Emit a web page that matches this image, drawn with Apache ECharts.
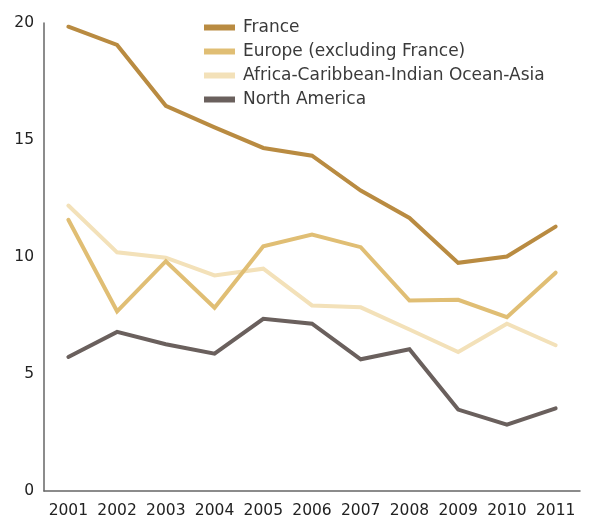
<!DOCTYPE html>
<html>
<head>
<meta charset="utf-8">
<script src="https://cdn.jsdelivr.net/npm/echarts@6/dist/echarts.min.js"></script>
<style>html,body{margin:0;padding:0;background:#fff}#c{width:590px;height:516px}</style>
</head>
<body>
<div id="c"></div>
<script>
var years = ['2001','2002','2003','2004','2005','2006','2007','2008','2009','2010','2011'];
var france = [19.84, 19.06, 16.46, 15.54, 14.66, 14.33, 12.84, 11.67, 9.75, 10.02, 11.3];
var europe = [11.59, 7.68, 9.82, 7.83, 10.46, 10.96, 10.42, 8.14, 8.17, 7.43, 9.33];
var africa = [12.2, 10.2, 9.97, 9.21, 9.5, 7.93, 7.85, 6.9, 5.94, 7.15, 6.23];
var northAmerica = [5.73, 6.8, 6.27, 5.87, 7.36, 7.15, 5.63, 6.06, 3.48, 2.84, 3.53];
var yTicks = [0, 5, 10, 15, 20];

var names = ['France', 'Europe (excluding France)', 'Africa-Caribbean-Indian Ocean-Asia', 'North America'];
var colors = ['#B98B41', '#E0BE74', '#F3E1B9', '#6A605D'];
var datas = [france, europe, africa, northAmerica];
var font = '"DejaVu Sans", sans-serif';

var chart = echarts.init(document.getElementById('c'));
chart.setOption({
  animation: false,
  color: colors,
  grid: { left: 44, right: 10, top: 23, bottom: 25, containLabel: false, outerBoundsMode: 'none' },
  legend: {
    orient: 'vertical', left: 199, top: 14,
    icon: 'rect', itemWidth: 31, itemHeight: 6, itemGap: 7,
    textStyle: { fontFamily: font, fontSize: 17, color: '#3a3a3a', padding: [0, 0, 0, 3] },
    data: names
  },
  xAxis: {
    type: 'category', data: years, boundaryGap: true,
    axisLine: { lineStyle: { color: '#666', width: 1.5 } },
    axisTick: { show: false },
    axisLabel: { color: '#222', fontFamily: font, fontSize: 15.5, margin: 12, interval: 0 }
  },
  yAxis: {
    type: 'value', min: 0, max: 20, interval: 5,
    axisLine: { show: true, lineStyle: { color: '#666', width: 1.5 } },
    axisTick: { show: false },
    splitLine: { show: false },
    axisLabel: { color: '#222', fontFamily: font, fontSize: 15.5, margin: 10,
      formatter: function (v) { return yTicks.indexOf(v) >= 0 ? String(v) : ''; } }
  },
  series: datas.map(function (d, i) {
    return {
      name: names[i], type: 'line', data: d, symbol: 'none',
      lineStyle: { width: 4, color: colors[i], cap: 'round', join: 'miter' },
      itemStyle: { color: colors[i] },
      z: 10 - i
    };
  })
});
</script>
</body>
</html>
